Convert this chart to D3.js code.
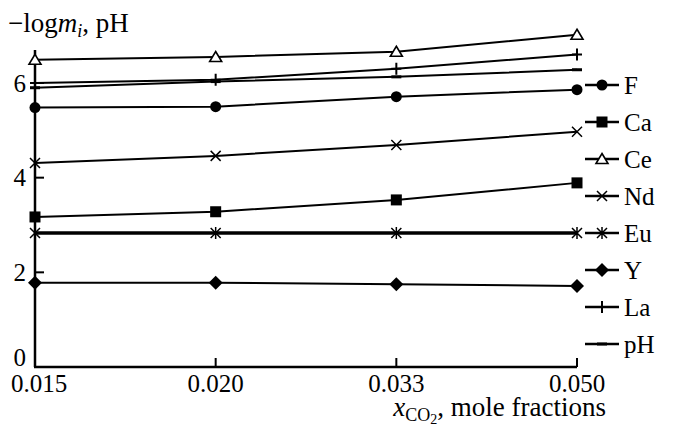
<!DOCTYPE html>
<html>
<head>
<meta charset="utf-8">
<script src="https://cdn.jsdelivr.net/npm/d3@7"></script>
<style>
  body { margin: 0; background: #fff; }
  svg text { font-family: "Liberation Serif", "DejaVu Serif", "Times New Roman", serif; fill: #000; }
</style>
</head>
<body>
<div id="chart"></div>
<script>
const categories = ["0.015", "0.020", "0.033", "0.050"];
const yTicks = [0, 2, 4, 6];

const F  = [5.48, 5.50, 5.71, 5.86];
const Ca = [3.17, 3.28, 3.53, 3.89];
const Ce = [6.49, 6.55, 6.66, 7.02];
const Nd = [4.31, 4.46, 4.69, 4.97];
const Eu = [2.83, 2.83, 2.83, 2.83];
const Y  = [1.78, 1.78, 1.75, 1.71];
const La = [6.00, 6.07, 6.30, 6.60];
const pH = [5.90, 6.03, 6.13, 6.28];

const seriesNames = ["F", "Ca", "Ce", "Nd", "Eu", "Y", "La", "pH"];
const seriesValues = [F, Ca, Ce, Nd, Eu, Y, La, pH];

const W = 697, H = 428;
const FONT = "'Liberation Serif', 'DejaVu Serif', 'Times New Roman', serif";
const svg = d3.select("#chart").append("svg")
  .attr("width", W).attr("height", H)
  .attr("font-family", FONT);

const x = d3.scalePoint().domain(categories).range([35, 577]);
const y = d3.scaleLinear().domain([0, 6]).range([367, 83]);
const yTop = 50;

// marker drawing
function marker(g, name, cx, cy) {
  const m = g.append("g").attr("transform", `translate(${cx},${cy})`);
  switch (name) {
    case "F":
      m.append("circle").attr("r", 5.5).attr("fill", "#000");
      break;
    case "Ca":
      m.append("rect").attr("x", -5.5).attr("y", -5.5).attr("width", 11).attr("height", 11).attr("fill", "#000");
      break;
    case "Ce":
      m.append("path").attr("d", "M0,-5.5L6,4.5L-6,4.5Z")
        .attr("fill", "#fff").attr("stroke", "#000").attr("stroke-width", 1.6);
      break;
    case "Nd":
      m.append("path").attr("d", "M-5,-5L5,5M-5,5L5,-5")
        .attr("stroke", "#000").attr("stroke-width", 1.5);
      break;
    case "Eu":
      m.append("path").attr("d", "M-5,-5L5,5M-5,5L5,-5M0,-6L0,6")
        .attr("stroke", "#000").attr("stroke-width", 1.5);
      break;
    case "Y":
      m.append("path").attr("d", "M0,-7L7,0L0,7L-7,0Z").attr("fill", "#000");
      break;
    case "La":
      m.append("path").attr("d", "M-5,0L5,0M0,-6L0,6")
        .attr("stroke", "#000").attr("stroke-width", 2);
      break;
    case "pH":
      m.append("path").attr("d", "M-5,0L5,0")
        .attr("stroke", "#000").attr("stroke-width", 3);
      break;
  }
}

// axes
svg.append("line")
  .attr("x1", x(categories[0])).attr("x2", x(categories[0]))
  .attr("y1", y(0)).attr("y2", yTop)
  .attr("stroke", "#000").attr("stroke-width", 2.5);
svg.append("line")
  .attr("x1", x(categories[0]) - 1).attr("x2", x(categories[categories.length - 1]))
  .attr("y1", y(0)).attr("y2", y(0))
  .attr("stroke", "#000").attr("stroke-width", 2.5);

yTicks.forEach(t => {
  if (t > 0) {
    svg.append("line")
      .attr("x1", x(categories[0])).attr("x2", x(categories[0]) + 9)
      .attr("y1", y(t)).attr("y2", y(t))
      .attr("stroke", "#000").attr("stroke-width", 2);
  }
  svg.append("text")
    .attr("x", 26)
    .attr("y", t === 0 ? y(t) - 10 : y(t))
    .attr("dy", "0.35em")
    .attr("text-anchor", "end")
    .attr("font-size", 25)
    .text(t);
});

categories.forEach((c, i) => {
  if (i > 0) {
    svg.append("line")
      .attr("x1", x(c)).attr("x2", x(c))
      .attr("y1", y(0)).attr("y2", y(0) - 9)
      .attr("stroke", "#000").attr("stroke-width", 2);
  }
  svg.append("text")
    .attr("x", x(c) + (i === 0 ? 4 : 0))
    .attr("y", 392)
    .attr("text-anchor", "middle")
    .attr("font-size", 25)
    .text(c);
});

// axis titles
const yTitle = svg.append("text").attr("x", 8).attr("y", 32).attr("font-size", 27);
yTitle.append("tspan").text("\u2212log");
yTitle.append("tspan").attr("font-style", "italic").text("m");
yTitle.append("tspan").attr("font-style", "italic").attr("font-size", 18).attr("dy", 5).text("i");
yTitle.append("tspan").attr("dy", -5).text(", pH");

const xTitle = svg.append("text").attr("x", 606).attr("y", 416)
  .attr("text-anchor", "end").attr("font-size", 27);
xTitle.append("tspan").attr("font-style", "italic").text("x");
xTitle.append("tspan").attr("font-size", 18).attr("dy", 5).text("CO");
xTitle.append("tspan").attr("font-size", 14).attr("dy", 3).text("2");
xTitle.append("tspan").attr("dy", -8).text(", mole fractions");

// series
const line = d3.line().x((d, i) => x(categories[i])).y(d => y(d));

seriesNames.forEach((name, k) => {
  const vals = seriesValues[k];
  svg.append("path")
    .datum(vals)
    .attr("d", line)
    .attr("fill", "none")
    .attr("stroke", "#000")
    .attr("stroke-width", name === "Eu" ? 3.5 : 2);
  vals.forEach((v, i) => marker(svg, name, x(categories[i]), y(v)));
});

// legend
const legend = svg.append("g");
seriesNames.forEach((name, k) => {
  const ly = 85 + k * 37;
  legend.append("line")
    .attr("x1", 585).attr("x2", 619).attr("y1", ly).attr("y2", ly)
    .attr("stroke", "#000").attr("stroke-width", 2.5);
  marker(legend, name, 602, ly);
  legend.append("text")
    .attr("x", 624).attr("y", ly).attr("dy", "0.35em")
    .attr("font-size", 25)
    .text(name);
});
</script>
</body>
</html>
